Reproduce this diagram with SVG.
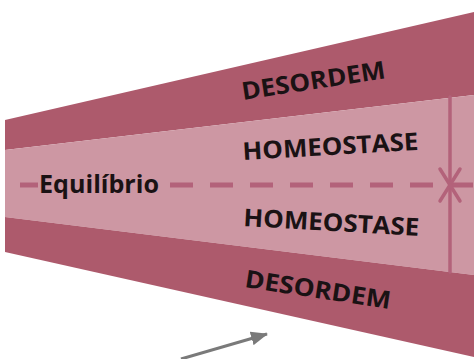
<svg xmlns="http://www.w3.org/2000/svg" width="474" height="359" viewBox="0 0 474 359">
  <style>
    .dark { fill: #AD5A6C; }
    .light { fill: #CD97A3; }
    .lbl { font-family: "Open Sans", "Liberation Sans", sans-serif; font-weight: 700; font-size: 24.5px; fill: #1a1214; }
    .eq { font-family: "Open Sans", "Liberation Sans", sans-serif; font-weight: 700; font-size: 25px; fill: #1a1214; }
    .dash { stroke: #B3627A; stroke-width: 5; fill: none; }
    .vline { stroke: #B3627A; stroke-width: 3.5; fill: none; stroke-linecap: round; stroke-linejoin: round; }
    .grey { stroke: #7A7A7A; stroke-width: 3; fill: none; }
  </style>
  <defs>
    <marker id="greyhead" markerUnits="userSpaceOnUse" markerWidth="17" markerHeight="14" refX="16" refY="7" orient="auto">
      <path d="M0,0 L17,7 L0,14 z" fill="#7A7A7A"/>
    </marker>
  </defs>
  <rect width="474" height="359" fill="#ffffff"/>

  <g id="band-top">
    <polygon class="dark" points="5,120 474,12 474,95 5,150"/>
    <text class="lbl" transform="translate(243,100) rotate(-8.7)" x="0" y="0" textLength="145" lengthAdjust="spacingAndGlyphs">DESORDEM</text>
  </g>

  <g id="band-middle">
    <polygon class="light" points="5,150 474,95 474,275 5,217"/>
    <text class="lbl" transform="translate(243,160) rotate(-3.3)" x="0" y="0" textLength="176" lengthAdjust="spacingAndGlyphs">HOMEOSTASE</text>
    <text class="lbl" transform="translate(243,226) rotate(3.2)" x="0" y="0" textLength="176" lengthAdjust="spacingAndGlyphs">HOMEOSTASE</text>
  </g>

  <g id="band-bottom">
    <polygon class="dark" points="5,217 474,275 474,357 5,252"/>
    <text class="lbl" transform="translate(244,287) rotate(8.6)" x="0" y="0" textLength="147" lengthAdjust="spacingAndGlyphs">DESORDEM</text>
  </g>

  <g id="connectors">
    <line class="dash" x1="20" y1="185" x2="38" y2="185"/>
    <line class="dash" x1="170" y1="185" x2="474" y2="185" stroke-dasharray="23 17"/>
    <line class="vline" x1="450" y1="97" x2="450" y2="272"/>
    <polyline class="vline" points="440,169 450,185 460,169"/>
    <polyline class="vline" points="440,201 450,185 460,201"/>
    <line class="grey" x1="181" y1="359" x2="267" y2="334" marker-end="url(#greyhead)"/>
  </g>

  <g id="equilibrio">
    <text class="eq" x="39" y="193" textLength="120" lengthAdjust="spacingAndGlyphs">Equilíbrio</text>
  </g>
</svg>
